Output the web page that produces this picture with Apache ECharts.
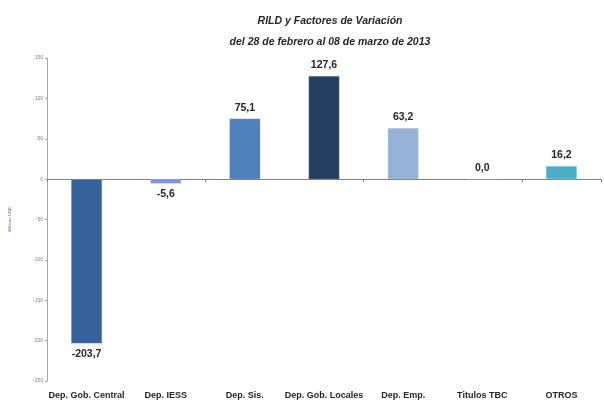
<!DOCTYPE html>
<html>
<head>
<meta charset="utf-8">
<script src="https://cdn.jsdelivr.net/npm/echarts@6/dist/echarts.min.js"></script>
<style>
  html, body { margin: 0; padding: 0; background: #fff; }
  #chart { width: 604px; height: 405px; }
</style>
</head>
<body>
<div id="chart"></div>
<script>
const categories = ["Dep. Gob. Central", "Dep. IESS", "Dep. Sis.", "Dep. Gob. Locales", "Dep. Emp.", "Titulos TBC", "OTROS"];
const values = [-203.7, -5.6, 75.1, 127.6, 63.2, 0.0, 16.2];
const barColors = ["#36629c", "#8196dc", "#4f81bd", "#243f60", "#95b3d7", "#4bacc6", "#4bacc6"];

const font = '"Liberation Sans", sans-serif';
const fmt = (v) => v.toFixed(1).replace(".", ",");

const chart = echarts.init(document.getElementById("chart"));
chart.setOption({
  animation: false,
  title: {
    text: "RILD y Factores de Variación\ndel 28 de febrero al 08 de marzo de 2013",
    left: 325,
    textAlign: "center",
    top: 6,
    textStyle: {
      fontFamily: font,
      fontStyle: "italic",
      fontWeight: "bold",
      fontSize: 10.5,
      lineHeight: 21,
      color: "#262626",
    },
  },
  grid: { left: 47, right: 3, top: 58, bottom: 24 },
  xAxis: [
    {
      type: "category",
      data: categories,
      position: "bottom",
      axisLine: { show: false, onZero: false },
      axisTick: { show: false },
      axisLabel: {
        interval: 0,
        margin: 10,
        fontFamily: font,
        fontWeight: "bold",
        fontSize: 9,
        color: "#262626",
      },
    },
    {
      type: "category",
      data: categories,
      position: "bottom",
      axisLine: { onZero: true, lineStyle: { color: "#7f7f7f", width: 1 } },
      axisTick: { show: true, length: 3, lineStyle: { color: "#7f7f7f" } },
      axisLabel: { show: false },
    },
  ],
  yAxis: {
    type: "value",
    min: -250,
    max: 150,
    interval: 50,
    name: "Millones USD",
    nameLocation: "middle",
    nameRotate: 90,
    nameGap: 35,
    nameTextStyle: { fontSize: 4, color: "#4a5a8a", fontFamily: font },
    axisLine: { show: true, lineStyle: { color: "#a6a6a6", width: 1 } },
    axisTick: { show: true, length: 2, lineStyle: { color: "#a6a6a6" } },
    splitLine: { show: false },
    axisLabel: { fontSize: 5, color: "#7f7f7f", margin: 4, fontFamily: font },
  },
  series: [
    {
      type: "bar",
      barWidth: 31,
      data: values.map((v, i) => ({
        value: v,
        itemStyle: { color: barColors[i] },
        label: { position: v < 0 ? "bottom" : "top" },
      })),
      itemStyle: { borderColor: "rgba(255,255,255,0.25)", borderWidth: 0.5 },
      label: {
        show: true,
        distance: 5,
        formatter: (p) => fmt(p.value),
        fontFamily: font,
        fontWeight: "bold",
        fontSize: 10.5,
        color: "#262626",
      },
    },
  ],
});
</script>
</body>
</html>
